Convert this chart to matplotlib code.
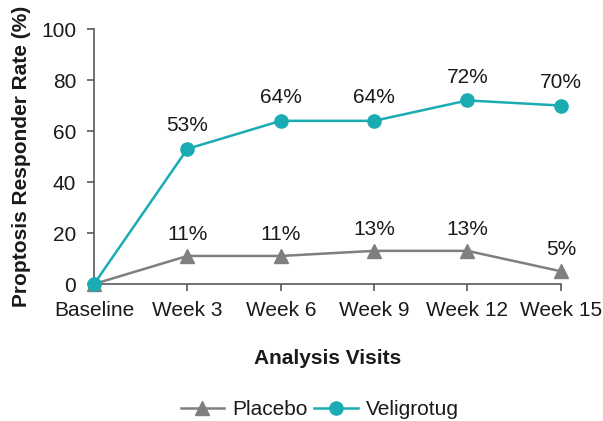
import numpy as np
import matplotlib.pyplot as plt

plt.rcParams['font.family'] = ['Liberation Sans', 'DejaVu Sans']

visits = ['Baseline', 'Week 3', 'Week 6', 'Week 9', 'Week 12', 'Week 15']
placebo = [0, 11, 11, 13, 13, 5]
veligrotug = [0, 53, 64, 64, 72, 70]

grey = '#7f7f7f'
teal = '#1aacb2'
ink = '#1a1a1a'

fig = plt.figure(figsize=(6.03, 4.21), dpi=100)
ax = fig.add_axes([0.156, 0.3254, 0.774, 0.6056])

x = np.arange(len(visits))
ax.plot(x, placebo, color=grey, lw=1.8, marker='^', ms=9.5, label='Placebo', clip_on=False, zorder=3)
ax.plot(x, veligrotug, color=teal, lw=1.8, marker='o', ms=9.5, label='Veligrotug', clip_on=False, zorder=4)

# percentage labels above every visit after baseline
for i in x[1:]:
    ax.annotate(f'{placebo[i]}%', (i, placebo[i]), xytext=(0, 15.5), textcoords='offset points',
                ha='center', va='center', fontsize=15, color=ink)
    ax.annotate(f'{veligrotug[i]}%', (i, veligrotug[i]), xytext=(0, 16.5), textcoords='offset points',
                ha='center', va='center', fontsize=15, color=ink)

ax.set_xlim(0, 5)
ax.set_ylim(0, 100)
ax.set_yticks(range(0, 101, 20))
ax.set_xticks(x)
ax.set_xticklabels(visits)
ax.tick_params(labelsize=15, colors=ink, length=5, width=1.2, color='#595959')
ax.tick_params(axis='y', pad=8)
ax.tick_params(axis='x', pad=7)
for s in ['top', 'right']:
    ax.spines[s].set_visible(False)
for s in ['left', 'bottom']:
    ax.spines[s].set_color('#595959')
    ax.spines[s].set_linewidth(1.2)

ax.set_ylabel('Proptosis Responder Rate (%)', fontsize=15, fontweight='bold', color=ink)
ax.yaxis.set_label_coords(-0.155, 0.5)
ax.yaxis.label.set_va('center')
ax.set_xlabel('Analysis Visits', fontsize=15, fontweight='bold', color=ink)
ax.xaxis.set_label_coords(0.5, -0.291)
ax.xaxis.label.set_va('center')

ax.legend(loc='center', bbox_to_anchor=(0.484, -0.492), ncol=2, frameon=False, fontsize=15,
          handlelength=2.1, columnspacing=0.3, handletextpad=0.4, labelcolor=ink)

fig.savefig('out.png', dpi=100)
